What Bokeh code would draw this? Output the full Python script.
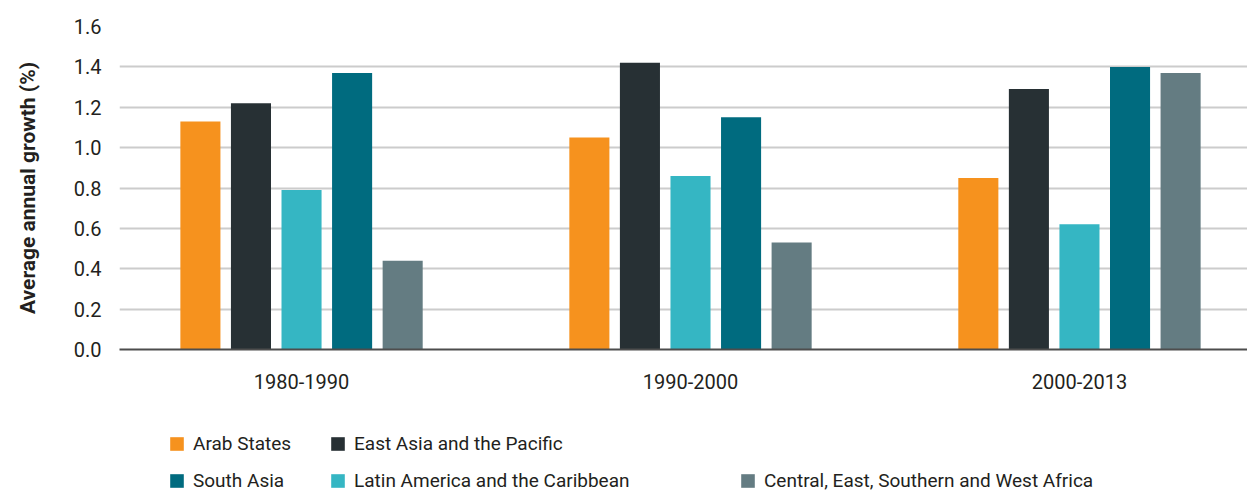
from bokeh.plotting import figure
from bokeh.layouts import column
from bokeh.models import ColumnDataSource, Range1d, FixedTicker, Legend, LegendItem, NumeralTickFormatter
from bokeh.transform import dodge
from bokeh.embed import file_html
from bokeh.resources import INLINE

# ---- data ----
periods = ["1980-1990", "1990-2000", "2000-2013"]
regions = [
    "Arab States",
    "East Asia and the Pacific",
    "Latin America and the Caribbean",
    "South Asia",
    "Central, East, Southern and West Africa",
]
arab_states = [1.13, 1.05, 0.85]
east_asia_pacific = [1.22, 1.42, 1.29]
latin_america_caribbean = [0.79, 0.86, 0.62]
south_asia = [1.37, 1.15, 1.40]
africa = [0.44, 0.53, 1.37]
y_ticks = [0.0, 0.2, 0.4, 0.6, 0.8, 1.0, 1.2, 1.4, 1.6]

colors = ["#F6921E", "#273034", "#35B6C3", "#006B7F", "#647C82"]
series = [arab_states, east_asia_pacific, latin_america_caribbean, south_asia, africa]
keys = ["arab", "east", "latin", "south", "africa"]

data = {"x": list(range(len(periods)))}
for k, s in zip(keys, series):
    data[k] = s
source = ColumnDataSource(data)

FONT = "Roboto"
TXT = "#231F20"
MAIN_H = 402

p = figure(
    width=1247, height=MAIN_H,
    output_backend="svg", toolbar_location=None,
    x_range=Range1d(-0.468, 2.432), y_range=Range1d(0, 1.6),
    min_border_left=119, min_border_right=0, min_border_top=26, min_border_bottom=MAIN_H - 349,
)
p.outline_line_color = None

offsets = [-0.26, -0.13, 0.0, 0.13, 0.26]
for k, c, off in zip(keys, colors, offsets):
    p.vbar(x=dodge("x", off, range=p.x_range), top=k, width=0.103, bottom=0,
           source=source, fill_color=c, line_color=None)

# grid
p.xgrid.grid_line_color = None
p.ygrid.grid_line_color = "#cccccc"
p.ygrid.grid_line_width = 2
p.ygrid.ticker = FixedTicker(ticks=y_ticks)

# y axis
p.yaxis.ticker = FixedTicker(ticks=y_ticks)
p.yaxis.formatter = NumeralTickFormatter(format="0.0")
p.yaxis.axis_line_color = None
p.yaxis.major_tick_line_color = None
p.yaxis.minor_tick_line_color = None
p.yaxis.major_tick_out = 0
p.yaxis.major_label_standoff = 18
p.yaxis.major_label_text_font = FONT
p.yaxis.major_label_text_font_size = "20px"
p.yaxis.major_label_text_color = TXT
p.yaxis.axis_label = "Average annual growth (%)"
p.yaxis.axis_label_text_font = FONT
p.yaxis.axis_label_text_font_size = "21px"
p.yaxis.axis_label_text_font_style = "bold"
p.yaxis.axis_label_text_color = TXT
p.yaxis.axis_label_standoff = 31

# x axis
p.xaxis.ticker = FixedTicker(ticks=data["x"])
p.xaxis.major_label_overrides = {i: lab for i, lab in enumerate(periods)}
p.xaxis.axis_line_color = "#4d4d4d"
p.xaxis.axis_line_width = 2
p.xaxis.major_tick_line_color = None
p.xaxis.minor_tick_line_color = None
p.xaxis.major_tick_out = 0
p.xaxis.major_label_standoff = 24
p.xaxis.major_label_text_font = FONT
p.xaxis.major_label_text_font_size = "20px"
p.xaxis.major_label_text_color = TXT

# ---- legend panel below the chart ----
LH = 492 - MAIN_H
q = figure(
    width=1247, height=LH,
    output_backend="svg", toolbar_location=None,
    x_range=Range1d(0, 1), y_range=Range1d(0, 1),
    x_axis_location=None, y_axis_location=None,
    min_border_left=119, min_border_right=0, min_border_top=0, min_border_bottom=0,
)
q.outline_line_color = None
q.xgrid.visible = False
q.ygrid.visible = False

# hidden copies of the bar series, used only as legend swatches
swatches = []
for k, c in zip(keys, colors):
    r = q.vbar(x="x", top=k, width=0.1, source=source, fill_color=c, line_color=None)
    r.visible = False
    swatches.append(r)

ROW1 = LH - 32 - 21
legend_pos = {
    0: (168 - 119, ROW1),   # Arab States
    1: (329 - 119, ROW1),   # East Asia and the Pacific
    3: (168 - 119, 0),      # South Asia
    2: (329 - 119, 0),      # Latin America and the Caribbean
    4: (739 - 119, 0),      # Central, East, Southern and West Africa
}
for idx, loc in legend_pos.items():
    lg = Legend(
        items=[LegendItem(label=regions[idx], renderers=[swatches[idx]])],
        location=loc,
        padding=0, margin=0, spacing=0,
        glyph_width=17, glyph_height=17, label_height=17,
        label_standoff=8,
        label_text_font=FONT, label_text_font_size="19px", label_text_color=TXT,
        border_line_color=None, background_fill_alpha=0,
        inactive_fill_alpha=0,
    )
    q.add_layout(lg, "center")

layout = column(p, q, spacing=0)
open("out.html", "w").write(file_html(layout, INLINE))
